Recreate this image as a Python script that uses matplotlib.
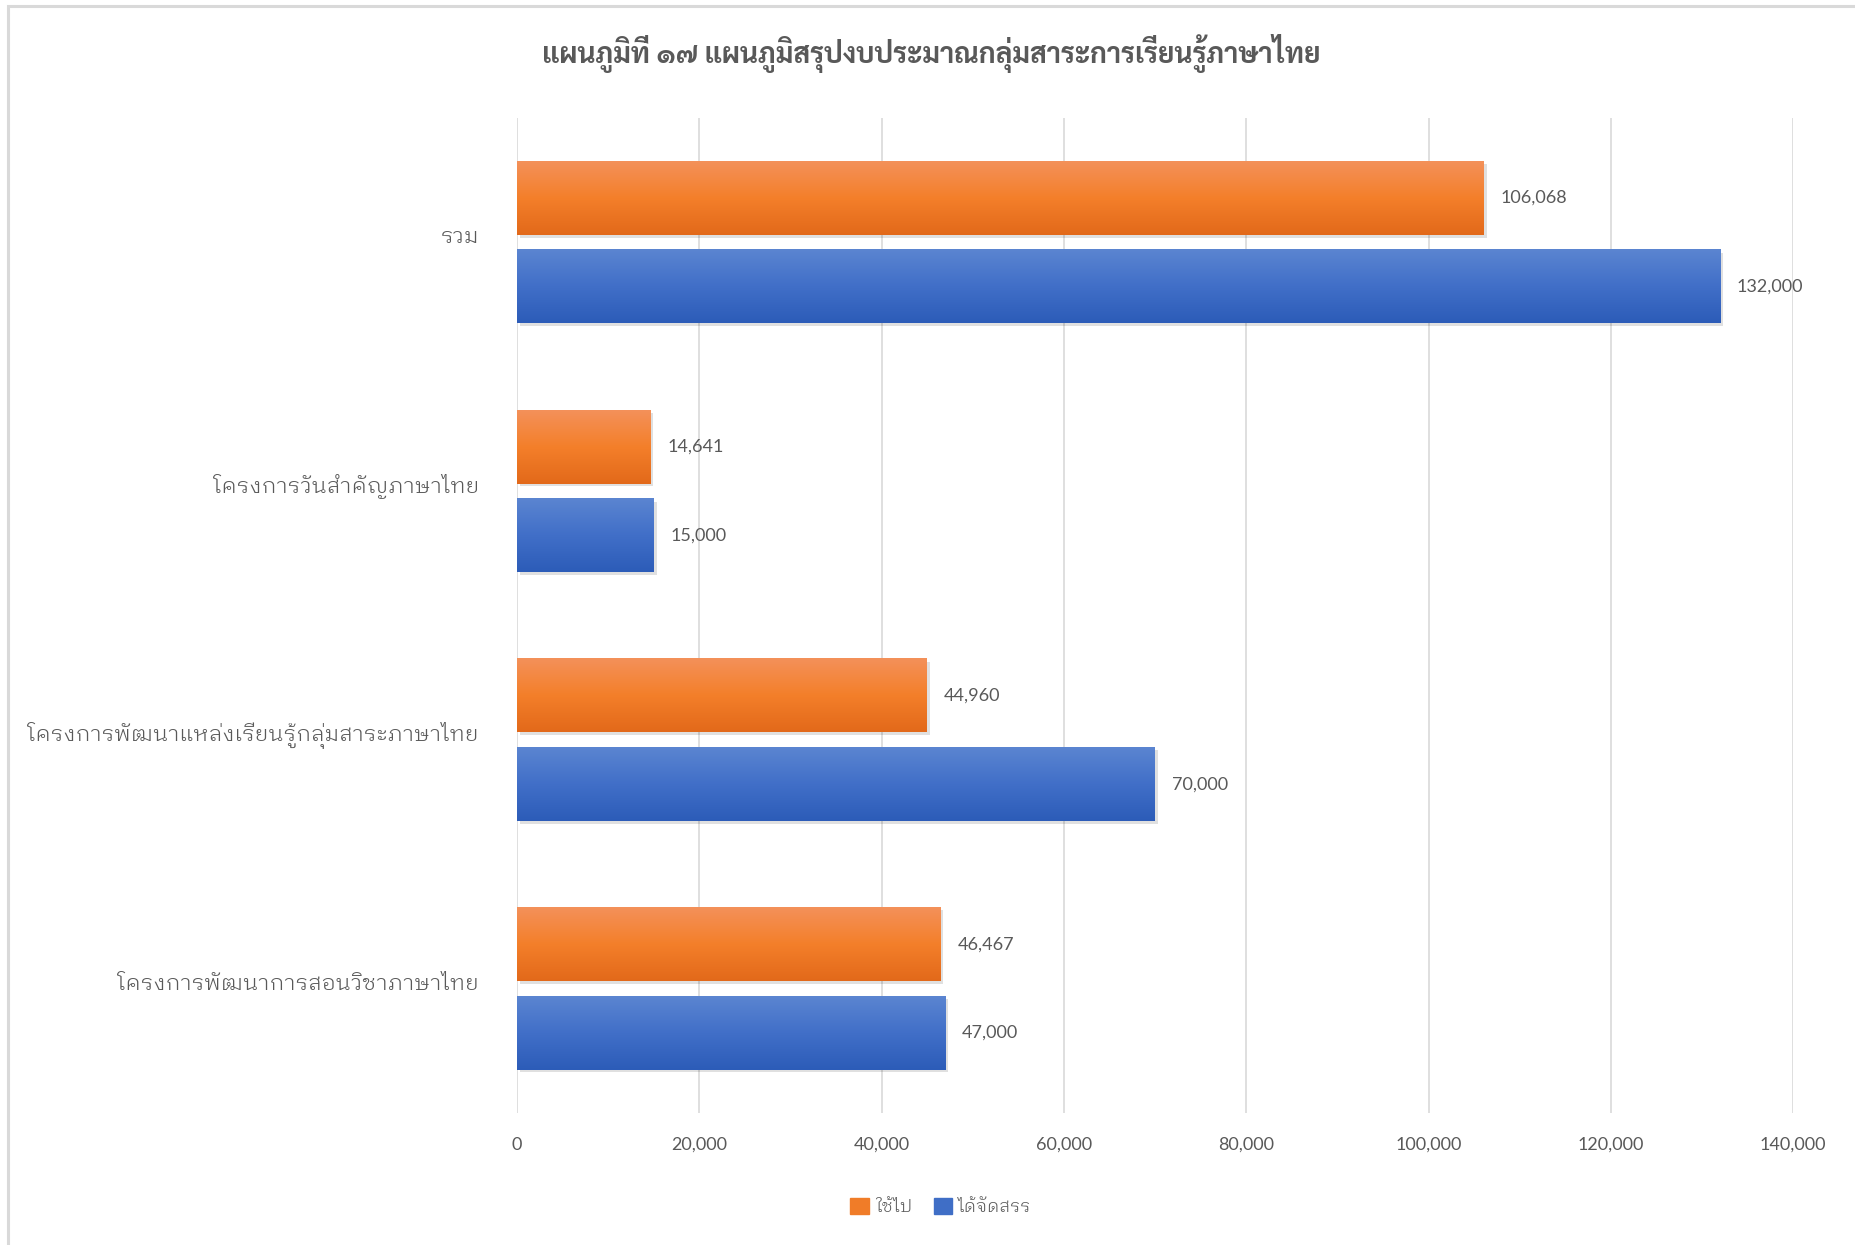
import matplotlib
matplotlib.use("Agg")
import matplotlib.pyplot as plt
import matplotlib.patheffects as pe
from matplotlib.patches import Rectangle
from matplotlib.ticker import FuncFormatter
import matplotlib.transforms as mtrans
import numpy as np

categories = [
    "โครงการพัฒนาการสอนวิชาภาษาไทย",
    "โครงการพัฒนาแหล่งเรียนรู้กลุ่มสาระภาษาไทย",
    "โครงการวันสำคัญภาษาไทย",
    "รวม",
]
used = [46467, 44960, 14641, 106068]        # ใช้ไป
allocated = [47000, 70000, 15000, 132000]   # ได้จัดสรร
series_names = ["ใช้ไป", "ได้จัดสรร"]
title = "แผนภูมิที่ ๑๗ แผนภูมิสรุปงบประมาณกลุ่มสาระการเรียนรู้ภาษาไทย"

thai = ["IBM Plex Sans Thai Looped", "Noto Sans Thai Looped", "Noto Sans"]
nums = ["Lato", "Noto Sans Thai Looped"]
grey = "#595959"

fig = plt.figure(figsize=(18.56, 12.45), dpi=100)
fig.patches.append(Rectangle((8 / 1856, -0.1), 1.2, (1 - 6 / 1245) + 0.1,
                             transform=fig.transFigure, fill=False,
                             edgecolor="#D9D9D9", linewidth=2.2))
ax = fig.add_axes([0.2786, 0.1060, 0.6875, 0.7992])

y = np.arange(len(categories))
h = 0.295
off = 0.178

grads = {
    "orange": (["#F3915A", "#F47F2A", "#E2691A"], "#F07C28"),
    "blue": (["#5B85D1", "#416FC8", "#2C5CB8"], "#3F6EC6"),
}

def draw(vals, pos, key):
    cols, base = grads[key]
    bars = ax.barh(pos, vals, height=h, color=base, zorder=3)
    cmap = matplotlib.colors.LinearSegmentedColormap.from_list(key, cols[::-1])
    grad = np.linspace(0, 1, 256).reshape(-1, 1)
    for b in bars:
        b.set_path_effects([pe.SimplePatchShadow(offset=(2, -2), shadow_rgbFace="#000000", alpha=0.12), pe.Normal()])
        x0, y0, w, hh = b.get_x(), b.get_y(), b.get_width(), b.get_height()
        ax.imshow(grad, extent=[x0, x0 + w, y0, y0 + hh], origin="lower",
                  cmap=cmap, aspect="auto", zorder=4, interpolation="bicubic")
    for b, v in zip(bars, vals):
        ax.annotate(f"{v:,}", (b.get_width(), b.get_y() + b.get_height() / 2),
                    xytext=(12, 0), textcoords="offset points", va="center",
                    ha="left", fontsize=13, color=grey, family=nums, zorder=5)
    return bars

draw(used, y + off, "orange")
draw(allocated, y - off, "blue")

ax.set_xlim(0, 140000)
ax.set_ylim(-0.5, 3.5)
ax.set_xticks(np.arange(0, 140001, 20000))
ax.xaxis.set_major_formatter(FuncFormatter(lambda v, p: f"{int(v):,}"))
ax.set_yticks(y)
ax.set_yticklabels([])
# category labels, nudged up a little like the original
lab_tr = ax.get_yaxis_transform() + mtrans.ScaledTranslation(-0.38, 0.05, fig.dpi_scale_trans)
for yi, name in zip(y, categories):
    ax.text(0, yi, name, transform=lab_tr, ha="right", va="center",
            family=thai, fontweight=300, fontsize=16.15, color=grey)
for lab in ax.get_xticklabels():
    lab.set_family(nums)
    lab.set_fontsize(13)
    lab.set_color(grey)
ax.tick_params(axis="both", length=0)
ax.tick_params(axis="x", pad=17)
ax.grid(axis="x", color="#D9D9D9", linewidth=1.2, zorder=0)
ax.set_axisbelow(True)
for s in ax.spines.values():
    s.set_visible(False)

fig.text(0.502, 0.957, title, ha="center", va="center", fontsize=20.2,
         fontweight="bold", color=grey, family=["Sarabun", "Noto Sans"])

handles = [Rectangle((0, 0), 1, 1, color="#F07C28"), Rectangle((0, 0), 1, 1, color="#3F6EC6")]
leg = fig.legend(handles, series_names, loc="center", bbox_to_anchor=(0.507, 0.0305),
                 ncol=2, frameon=False, handlelength=1.0, handleheight=1.0,
                 handletextpad=0.35, columnspacing=1.2,
                 prop={"family": thai, "size": 13, "weight": 300})
for t in leg.get_texts():
    t.set_color(grey)

fig.savefig("out.png", dpi=100)
